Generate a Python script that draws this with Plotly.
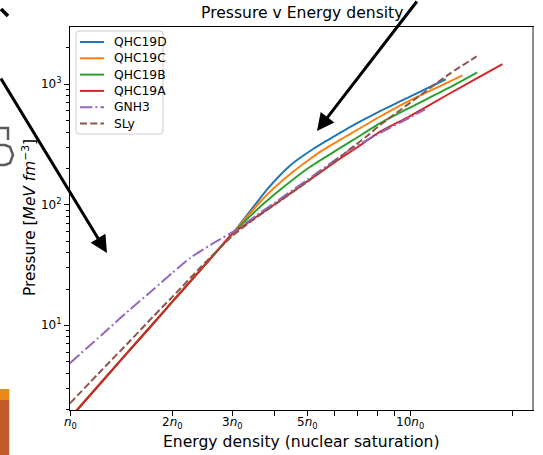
import math
import plotly.graph_objects as go

# Energy density (units of nuclear saturation n0) and pressure (MeV fm^-3)
qhc19d_n = [1.0, 1.25, 1.5, 1.75, 2.0, 2.25, 2.5, 2.75, 3.0, 3.4, 3.79, 4.1, 4.44, 4.8, 5.19, 5.69, 6.5, 8.17, 10.0, 12.74]
qhc19d_p = [1.70, 3.48, 6.24, 10.2, 15.7, 22.8, 32.0, 43.4, 57.3, 90, 133, 170, 212, 250, 290, 340, 425, 598, 790, 1100]

qhc19c_n = [1.0, 1.25, 1.5, 1.75, 2.0, 2.25, 2.5, 2.75, 3.0, 3.5, 3.93, 4.5, 5.0, 5.55, 6.44, 8.17, 10.0, 13.07, 14.25]
qhc19c_p = [1.70, 3.48, 6.24, 10.2, 15.7, 22.8, 32.0, 43.4, 57.3, 95, 133, 185, 232, 285, 365, 540, 735, 1050, 1183]

qhc19b_n = [1.0, 1.25, 1.5, 1.75, 2.0, 2.25, 2.5, 2.75, 3.0, 3.5, 4.15, 5.0, 6.10, 6.81, 8.17, 10.0, 13.07, 15.77]
qhc19b_p = [1.70, 3.48, 6.24, 10.2, 15.7, 22.8, 32.0, 43.4, 57.3, 88, 133, 200, 285, 345, 475, 640, 940, 1257]

qhc19a_n = [1.0, 1.25, 1.5, 1.75, 2.0, 2.25, 2.5, 2.75, 3.0, 3.5, 4.0, 5.0, 6.0, 7.0, 8.0, 10.0, 13.0, 16.0, 18.7]
qhc19a_p = [1.70, 3.48, 6.24, 10.2, 15.7, 22.8, 32.0, 43.4, 57.3, 78, 101, 157, 225, 300, 390, 545, 830, 1150, 1470]

gnh3_n = [1.0, 1.25, 1.5, 1.75, 2.0, 2.25, 2.6, 3.09, 3.5, 4.0, 5.0, 6.66, 8.17, 10.0, 11.07]
gnh3_p = [4.85, 8.5, 13.5, 19.6, 27.2, 36.0, 46.7, 62.1, 80, 104, 162, 286, 395, 530, 620]

sly_n = [1.0, 1.25, 1.5, 1.75, 2.0, 2.5, 3.0, 3.5, 4.0, 5.0, 6.0, 6.66, 7.46, 8.17, 10.0, 13.07, 15.7]
sly_p = [2.25, 4.35, 7.4, 11.7, 17.2, 33.2, 55, 77, 100, 156, 228, 290, 370, 460, 700, 1220, 1700]

x_tick_vals = [1, 2, 3, 5, 10]
x_tick_text = ["<i>n</i><sub>0</sub>", "2<i>n</i><sub>0</sub>", "3<i>n</i><sub>0</sub>",
               "5<i>n</i><sub>0</sub>", "10<i>n</i><sub>0</sub>"]
x_minor_vals = [4, 6, 7, 8, 9, 20]
y_tick_vals = [10, 100, 1000]
y_tick_text = ["10<sup>1</sup>", "10<sup>2</sup>", "10<sup>3</sup>"]
y_minor_vals = [m * 10 ** d for d in range(0, 4) for m in range(2, 10) if m * 10 ** d <= 3000]

# plot-area box in page pixels
W, H = 543, 455
L, R, T, B = 70, 533, 27, 410
X_RANGE = [0, math.log10(23.0)]


def px(x):
    return (x - L) / (R - L)


def py(y):
    return (B - y) / (B - T)


FONT = "DejaVu Sans"
LW = 2
series = [
    ("QHC19D", qhc19d_n, qhc19d_p, "#1f77b4", "solid"),
    ("QHC19C", qhc19c_n, qhc19c_p, "#ff7f0e", "solid"),
    ("QHC19B", qhc19b_n, qhc19b_p, "#2ca02c", "solid"),
    ("QHC19A", qhc19a_n, qhc19a_p, "#d62728", "solid"),
    ("GNH3", gnh3_n, gnh3_p, "#9467bd", "12.3px,3.1px,1.9px,3.1px"),
    ("SLy", sly_n, sly_p, "#8c564b", "7.1px,3.1px"),
]

fig = go.Figure()
for name, xs, ys, color, dash in series:
    fig.add_trace(go.Scatter(
        x=xs, y=ys, name=name, mode="lines", showlegend=False,
        line=dict(color=color, width=LW, dash=dash, shape="spline", smoothing=0.6),
    ))

axis_common = dict(
    showline=True, linecolor="black", linewidth=1, mirror=True,
    ticks="outside", ticklen=5, tickwidth=1, tickcolor="black",
    showgrid=False, zeroline=False,
    tickfont=dict(family=FONT, size=12, color="black"),
)

fig.update_xaxes(
    type="log", range=X_RANGE,
    tickmode="array", tickvals=x_tick_vals, showticklabels=False,
    minor=dict(tickmode="array", tickvals=x_minor_vals, ticks="outside",
               ticklen=5, tickwidth=1, tickcolor="black", showgrid=False),
    **axis_common,
)
fig.update_yaxes(
    type="log", range=[0.297, 3.475],
    tickmode="array", tickvals=y_tick_vals, ticktext=y_tick_text,
    minor=dict(tickmode="array", tickvals=y_minor_vals, ticks="outside",
               ticklen=3, tickwidth=1, tickcolor="black", showgrid=False),
    **axis_common,
)

annotations = [
    dict(text="Pressure v Energy density", x=0.5, y=1, xref="paper", yref="paper",
         xanchor="center", yanchor="bottom", yshift=3, showarrow=False,
         font=dict(family=FONT, size=15.6, color="black")),
    dict(text="Energy density (nuclear saturation)", x=px(301.5), y=py(442),
         xref="paper", yref="paper", xanchor="center", yanchor="middle",
         showarrow=False, font=dict(family=FONT, size=15.6, color="black")),
    dict(text="Pressure [<i>MeV</i> <i>fm</i><sup>−3</sup>]", x=px(29), y=py(218),
         xref="paper", yref="paper", xanchor="center", yanchor="middle", textangle=-90,
         showarrow=False, font=dict(family=FONT, size=15.4, color="black")),
    # pointer arrows laid over the chart
    dict(text="", x=px(107), y=py(253), xref="paper", yref="paper",
         showarrow=True, arrowhead=2, arrowsize=1.15, arrowwidth=3, arrowcolor="black",
         ax=-117, ay=-176),
    dict(text="", x=px(317), y=py(131), xref="paper", yref="paper",
         showarrow=True, arrowhead=2, arrowsize=1.15, arrowwidth=3, arrowcolor="black",
         ax=101, ay=-141),
]

# x tick labels placed under the log-axis tick positions
for v, txt in zip(x_tick_vals, x_tick_text):
    frac = (math.log10(v) - X_RANGE[0]) / (X_RANGE[1] - X_RANGE[0])
    annotations.append(dict(text=txt, x=frac, y=py(423), xref="paper", yref="paper",
                            xanchor="center", yanchor="middle", showarrow=False,
                            font=dict(family=FONT, size=12, color="black")))


def pline(x0, y0, x1, y1, color, width, dash="solid"):
    return dict(type="line", xref="paper", yref="paper",
                x0=px(x0), y0=py(y0), x1=px(x1), y1=py(y1),
                line=dict(color=color, width=width, dash=dash))


def prect(x0, y0, x1, y1, color):
    return dict(type="rect", xref="paper", yref="paper",
                x0=px(x0), y0=py(y0), x1=px(x1), y1=py(y1),
                fillcolor=color, line=dict(width=0))


def ppath(points, color, width):
    d = "M " + " L ".join(f"{px(a):.5f},{py(b):.5f}" for a, b in points)
    return dict(type="path", xref="paper", yref="paper", path=d,
                line=dict(color=color, width=width))


def rounded_box(x0, y0, x1, y1, r):
    pts = [
        ("M", x0 + r, y0), ("L", x1 - r, y0), ("Q", x1, y0, x1, y0 + r),
        ("L", x1, y1 - r), ("Q", x1, y1, x1 - r, y1), ("L", x0 + r, y1),
        ("Q", x0, y1, x0, y1 - r), ("L", x0, y0 + r), ("Q", x0, y0, x0 + r, y0),
    ]
    parts = []
    for p in pts:
        cmd, coords = p[0], p[1:]
        xy = [f"{px(coords[i]):.5f},{py(coords[i + 1]):.5f}" for i in range(0, len(coords), 2)]
        parts.append(cmd + " " + " ".join(xy))
    return dict(type="path", xref="paper", yref="paper", path=" ".join(parts) + " Z",
                fillcolor="rgba(255,255,255,0.8)", line=dict(color="#cccccc", width=1))


shapes = [
    pline(533, 27, 533, 410, "#8c8c8c", 2),
    pline(1, 9, 8, 16, "black", 3.5),
    ppath([(0, 128), (8, 128), (8, 140)], "#5a5a5a", 2.5),
    ppath([(0, 145), (5, 145), (10, 147), (13, 155), (10, 163), (5, 165), (0, 165)], "#5a5a5a", 2.5),
    prect(0, 389, 9.3, 400, "#e8891c"),
    prect(0, 400, 9.3, 455, "#c15a2b"),
    rounded_box(76, 31, 163, 134, 3),
]

# legend entries: sample line plus label
for k, (name, xs, ys, color, dash) in enumerate(series):
    yk = 42 + 16.3 * k
    shapes.append(pline(80, yk, 104, yk, color, LW, dash))
    annotations.append(dict(text=name, x=px(112), y=py(yk), xref="paper", yref="paper",
                            xanchor="left", yanchor="middle", showarrow=False,
                            font=dict(family=FONT, size=12.3, color="black")))

fig.update_layout(
    width=W, height=H,
    margin=dict(l=L, r=W - R, t=T, b=H - B, pad=0),
    paper_bgcolor="white", plot_bgcolor="white",
    font=dict(family=FONT, color="black"),
    showlegend=False,
    annotations=annotations,
    shapes=shapes,
)

fig.write_html("out.html")
